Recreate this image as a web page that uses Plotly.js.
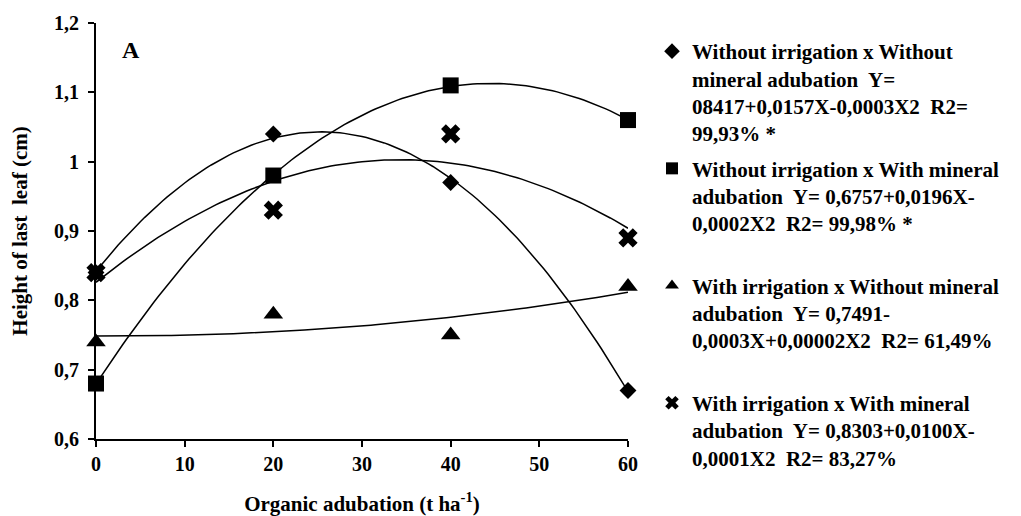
<!DOCTYPE html>
<html>
<head>
<meta charset="utf-8">
<script src="https://cdn.plot.ly/plotly-3.0.1.min.js"></script>
<style>html,body{margin:0;padding:0;background:#fff;}#chart{width:1021px;height:516px;}</style>
</head>
<body>
<div id="chart"></div>
<script>
// Data
const doses = [0, 20, 40, 60];
const noIrrNoMin = [0.84, 1.04, 0.97, 0.67];
const noIrrMin = [0.68, 0.98, 1.11, 1.06];
const irrNoMin = [0.74, 0.78, 0.75, 0.82];
const irrMin = [0.84, 0.93, 1.04, 0.89];
const seriesNames = [
  "Without irrigation x Without<br>mineral adubation  Y=<br>08417+0,0157X-0,0003X2  R2=<br>99,93% *",
  "Without irrigation x With mineral<br>adubation  Y= 0,6757+0,0196X-<br>0,0002X2  R2= 99,98% *<br> ",
  "With irrigation x Without mineral<br>adubation  Y= 0,7491-<br>0,0003X+0,00002X2  R2= 61,49%<br> ",
  "With irrigation x With mineral<br>adubation  Y= 0,8303+0,0100X-<br>0,0001X2  R2= 83,27%"
];
const yTickVals = [0.6, 0.7, 0.8, 0.9, 1.0, 1.1, 1.2];
const yTickText = ["0,6", "0,7", "0,8", "0,9", "1", "1,1", "1,2"];
const xTickVals = [0, 10, 20, 30, 40, 50, 60];

// quadratic least-squares trendline (as in the original spreadsheet trendlines)
function quadFit(xs, ys) {
  let S = [0,0,0,0,0], T = [0,0,0];
  for (let i = 0; i < xs.length; i++) {
    let p = 1;
    for (let k = 0; k < 5; k++) { S[k] += p; if (k < 3) T[k] += p * ys[i]; p *= xs[i]; }
  }
  const A = [[S[0],S[1],S[2],T[0]],[S[1],S[2],S[3],T[1]],[S[2],S[3],S[4],T[2]]];
  for (let c = 0; c < 3; c++) {
    for (let r = c + 1; r < 3; r++) {
      const f = A[r][c] / A[c][c];
      for (let k = c; k < 4; k++) A[r][k] -= f * A[c][k];
    }
  }
  const b = [0,0,0];
  for (let r = 2; r >= 0; r--) {
    let s = A[r][3];
    for (let k = r + 1; k < 3; k++) s -= A[r][k] * b[k];
    b[r] = s / A[r][r];
  }
  return b;
}
function trend(xs, ys) {
  const b = quadFit(xs, ys);
  const lx = [], ly = [];
  const x0 = Math.min(...xs), x1 = Math.max(...xs);
  for (let i = 0; i <= 120; i++) {
    const x = x0 + (x1 - x0) * i / 120;
    lx.push(x); ly.push(b[0] + b[1] * x + b[2] * x * x);
  }
  return {x: lx, y: ly};
}

const series = [noIrrNoMin, noIrrMin, irrNoMin, irrMin];
const symbols = ["diamond", "square", "triangle-up", "x"];
const sizes = [13, 16, 17, 17];
const traces = [];
series.forEach((ys, i) => {
  const t = trend(doses, ys);
  traces.push({x: t.x, y: t.y, mode: "lines", line: {color: "#000", width: 1.5},
    showlegend: false, hoverinfo: "skip", cliponaxis: false});
});
series.forEach((ys, i) => {
  traces.push({x: doses, y: ys, mode: "markers", name: seriesNames[i], legendgroup: "g" + i,
    marker: {symbol: symbols[i], size: sizes[i], color: "#000", line: {width: 0}},
    cliponaxis: false});
});

const font = {family: "Liberation Serif, Times New Roman, serif", color: "#000", weight: "bold"};
const layout = {
  width: 1021, height: 516,
  margin: {l: 96, r: 393, t: 23, b: 77},
  paper_bgcolor: "#fff", plot_bgcolor: "#fff",
  font: font,
  showlegend: true,
  legend: {
    xref: "container", yref: "container",
    x: 652 / 1021, y: 1 - 31 / 516, xanchor: "left", yanchor: "top",
    font: Object.assign({}, font, {size: 21}),
    valign: "top", tracegroupgap: 5, itemsizing: "constant",
    maxheight: 500,
    bgcolor: "rgba(0,0,0,0)"
  },
  xaxis: {
    range: [0, 60], tickvals: xTickVals, ticktext: xTickVals.map(String),
    showline: true, linecolor: "#000", linewidth: 2,
    ticks: "outside", ticklen: 6, tickwidth: 2, tickcolor: "#000",
    showgrid: false, zeroline: false,
    tickfont: Object.assign({}, font, {size: 20}),
    title: {text: "Organic adubation (t ha<sup>-1</sup>)", font: Object.assign({}, font, {size: 21}), standoff: 25}
  },
  yaxis: {
    range: [0.6, 1.2], tickvals: yTickVals, ticktext: yTickText,
    showline: true, linecolor: "#000", linewidth: 2,
    ticks: "outside", ticklen: 6, tickwidth: 2, tickcolor: "#000",
    showgrid: false, zeroline: false, ticklabelstandoff: 5,
    tickfont: Object.assign({}, font, {size: 20}),
    title: {text: "Height of last  leaf (cm)", font: Object.assign({}, font, {size: 21}), standoff: 21}
  },
  annotations: [{
    xref: "paper", yref: "paper", x: 0.065, y: 0.935, xanchor: "center", yanchor: "middle",
    text: "A", showarrow: false, font: Object.assign({}, font, {size: 24})
  }]
};
Plotly.newPlot("chart", traces, layout, {staticPlot: true, displayModeBar: false});
</script>
</body>
</html>
